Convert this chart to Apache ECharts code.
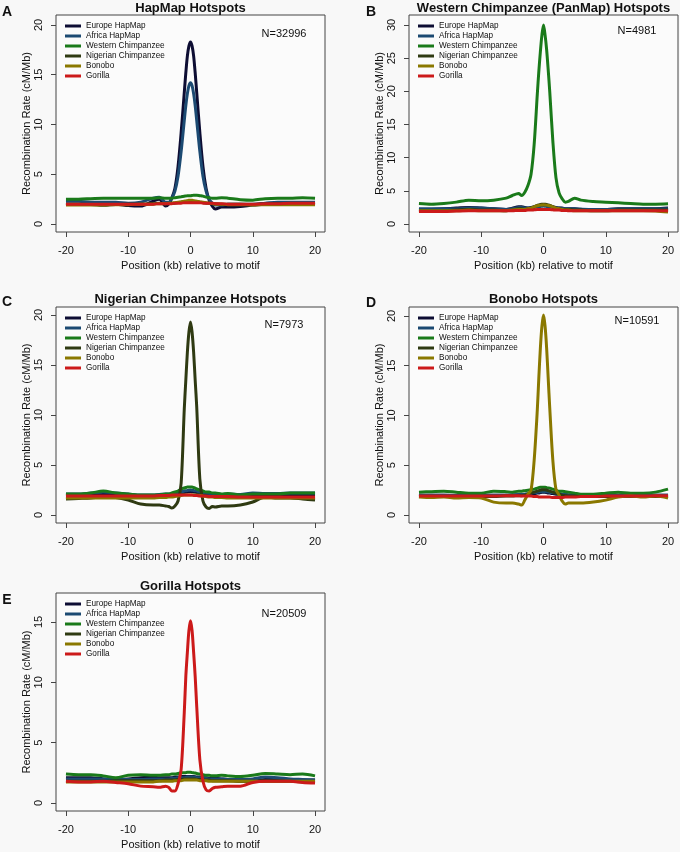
<!DOCTYPE html>
<html><head><meta charset="utf-8">
<script src="https://cdn.jsdelivr.net/npm/echarts@6/dist/echarts.min.js"></script>
<style>html,body{margin:0;padding:0;background:#f8f8f8}#c{width:680px;height:852px}</style>
</head><body><div id="c"></div><script>
// ---- data ----
const X = [-20,-18,-16,-14,-12,-10,-8,-6,-5,-4,-3.5,-3,-2.5,-2,-1.5,-1,-0.75,-0.5,-0.25,0,0.25,0.5,0.75,1,1.5,2,2.5,3,3.5,4,5,6,8,10,12,14,16,18,20];
const NAMES = ['Europe HapMap','Africa HapMap','Western Chimpanzee','Nigerian Chimpanzee','Bonobo','Gorilla'];
const X_TICKS = [-20,-10,0,10,20];

// Panel A: HapMap Hotspots
const a_eur = [2.0,2.0,2.0,1.9,2.0,1.85,1.8,2.3,2.5,1.8,2.0,2.6,3.6,5.8, 9.2,13.2,15.2,16.9,17.9,18.3,17.9,16.9,15.2,13.2,9.2, 5.8,3.6,2.4,1.8,1.5,1.7,1.7,1.75,1.9,2.0,2.0,2.0,2.0,2.0];
const a_afr = [2.3,2.3,2.2,2.2,2.2,2.1,2.2,2.6,2.7,2.2,2.2,2.6,3.3,4.8, 7.3,10.4,11.9,13.1,13.9,14.2,13.9,13.1,11.9,10.4,7.3, 4.8,3.3,2.5,2.1,1.9,1.9,2.0,2.0,2.0,2.1,2.2,2.2,2.2,2.2];
const a_wes = [2.5,2.5,2.55,2.6,2.6,2.6,2.6,2.6,2.65,2.6,2.6,2.6,2.65,2.7, 2.75,2.8,2.82,2.85,2.85,2.85,2.87,2.9,2.9,2.9,2.85, 2.8,2.7,2.65,2.6,2.6,2.65,2.6,2.45,2.4,2.55,2.6,2.6,2.65,2.6];
const a_nig = [2.0,2.0,1.95,1.9,1.95,2.0,2.0,2.05,2.1,2.05,2.05,2.1,2.1,2.15, 2.2,2.2,2.22,2.25,2.25,2.25,2.25,2.25,2.22,2.2,2.2, 2.15,2.1,2.1,2.05,2.05,2.0,2.0,2.0,1.95,2.0,2.05,2.0,2.05,2.0];
const a_bon = [1.9,1.9,1.9,1.9,1.95,1.95,2.0,2.0,2.05,2.05,2.1,2.1,2.15,2.2, 2.25,2.3,2.32,2.35,2.38,2.4,2.38,2.35,2.32,2.3,2.25, 2.2,2.15,2.1,2.05,2.0,2.0,1.95,1.95,1.9,1.95,1.95,1.95,1.95,1.95];
const a_gor = [2.0,2.0,2.0,2.0,2.0,2.0,2.0,2.0,2.05,2.05,2.05,2.05,2.1,2.1, 2.1,2.15,2.15,2.15,2.15,2.15,2.15,2.15,2.15,2.15,2.15, 2.1,2.1,2.1,2.1,2.05,2.05,2.0,2.0,2.0,2.05,2.05,2.1,2.1,2.1];

// Panel B: Western Chimpanzee (PanMap) Hotspots
const b_eur = [2.2,2.2,2.3,2.4,2.5,2.4,2.3,2.2,2.4,2.6,2.6,2.5,2.4,2.5, 2.6,2.7,2.75,2.8,2.8,2.8,2.8,2.8,2.75,2.7,2.6, 2.5,2.4,2.4,2.3,2.3,2.3,2.2,2.1,2.2,2.3,2.3,2.3,2.3,2.4];
const b_afr = [2.3,2.3,2.3,2.3,2.4,2.4,2.3,2.2,2.3,2.5,2.5,2.4,2.4,2.45, 2.5,2.6,2.62,2.65,2.68,2.7,2.68,2.65,2.62,2.6,2.5, 2.45,2.4,2.35,2.3,2.3,2.3,2.25,2.2,2.2,2.25,2.3,2.3,2.3,2.3];
const b_wes = [3.1,3.0,3.1,3.3,3.6,3.5,3.6,3.9,4.3,4.6,4.3,4.8,5.8,7.5, 12.0,19.5,23.0,26.0,28.5,30.0,28.5,26.3,23.3,20.0,12.5, 7.0,4.7,3.8,3.3,3.4,3.9,3.6,3.4,3.3,3.2,3.1,3.0,3.0,3.05];
const b_nig = [2.0,2.0,2.0,2.1,2.2,2.1,2.1,2.0,2.1,2.3,2.3,2.2,2.3,2.4, 2.6,2.8,2.88,2.95,2.98,3.0,2.98,2.95,2.88,2.8,2.6, 2.4,2.3,2.2,2.2,2.2,2.1,2.1,2.0,2.0,2.1,2.1,2.1,2.1,2.1];
const b_bon = [2.0,2.0,2.0,2.0,2.1,2.0,2.0,2.0,2.1,2.2,2.2,2.2,2.3,2.4, 2.6,2.75,2.8,2.85,2.88,2.9,2.88,2.85,2.8,2.75,2.6, 2.4,2.3,2.2,2.1,2.1,2.0,2.0,2.0,2.0,2.0,2.0,2.0,1.95,1.8];
const b_gor = [1.9,1.9,1.9,1.95,2.0,2.0,2.0,2.0,2.0,2.05,2.05,2.05,2.1,2.1, 2.15,2.2,2.2,2.2,2.2,2.2,2.2,2.2,2.2,2.2,2.15, 2.1,2.1,2.05,2.05,2.0,2.0,2.0,2.0,2.0,2.0,2.0,2.0,2.0,2.0];

// Panel C: Nigerian Chimpanzee Hotspots
const c_eur = [2.0,2.0,2.0,2.05,2.05,2.0,1.95,1.95,2.0,2.0,2.05,2.05,2.1,2.15, 2.2,2.25,2.28,2.3,2.33,2.35,2.33,2.3,2.28,2.25,2.2, 2.15,2.1,2.1,2.05,2.05,2.0,2.0,2.0,2.0,2.0,2.0,2.0,2.0,2.0];
const c_afr = [2.1,2.1,2.2,2.3,2.2,2.1,2.0,2.0,2.05,2.1,2.1,2.15,2.2,2.25, 2.3,2.4,2.42,2.45,2.48,2.5,2.48,2.45,2.42,2.4,2.3, 2.25,2.2,2.15,2.1,2.1,2.05,2.1,2.05,2.2,2.15,2.15,2.2,2.2,2.2];
const c_wes = [2.1,2.1,2.2,2.4,2.2,2.1,2.0,2.0,2.0,2.1,2.1,2.2,2.3,2.4, 2.6,2.7,2.75,2.8,2.8,2.8,2.8,2.75,2.7,2.6,2.5, 2.4,2.3,2.3,2.2,2.2,2.1,2.15,2.0,2.1,2.1,2.1,2.2,2.2,2.2];
const c_nig = [1.6,1.65,1.7,1.8,1.75,1.5,1.1,1.0,1.0,0.9,0.85,0.7,0.9,1.4, 3.2,10.6,13.5,16.3,18.3,19.3,18.3,16.3,13.5,10.8,3.6, 1.4,0.8,0.65,0.85,0.8,0.9,0.9,1.0,1.3,1.8,1.7,1.7,1.6,1.5];
const c_bon = [1.7,1.7,1.7,1.7,1.7,1.7,1.7,1.7,1.75,1.75,1.8,1.8,1.85,1.9, 1.95,2.0,2.0,2.0,2.0,2.0,2.0,2.0,2.0,2.0,1.95, 1.9,1.85,1.8,1.8,1.75,1.75,1.7,1.7,1.7,1.7,1.7,1.7,1.7,1.7];
const c_gor = [1.9,1.9,1.9,1.9,1.9,1.9,1.9,1.9,1.95,1.95,1.95,2.0,2.0,2.0, 2.0,2.0,2.0,2.0,2.0,2.0,2.0,1.95,1.95,1.95,1.9, 1.9,1.9,1.85,1.85,1.85,1.85,1.85,1.8,1.8,1.8,1.8,1.8,1.8,1.8];

// Panel D: Bonobo Hotspots
const d_eur = [2.0,2.0,2.0,1.95,1.95,2.0,2.0,2.0,2.0,2.05,2.05,2.05,2.1,2.1, 2.15,2.2,2.22,2.25,2.28,2.3,2.28,2.25,2.22,2.2,2.15, 2.1,2.1,2.05,2.05,2.0,2.0,2.0,2.0,2.0,2.0,2.0,2.0,2.0,2.0];
const d_afr = [2.0,2.0,2.0,2.0,2.0,2.0,2.0,2.0,2.05,2.05,2.1,2.1,2.15,2.2, 2.25,2.3,2.32,2.35,2.35,2.35,2.35,2.35,2.32,2.3,2.25, 2.2,2.15,2.1,2.1,2.05,2.05,2.0,2.0,2.0,2.0,2.0,2.0,2.0,2.0];
const d_wes = [2.3,2.35,2.4,2.3,2.2,2.2,2.4,2.35,2.3,2.4,2.4,2.45,2.5,2.55, 2.6,2.7,2.75,2.8,2.8,2.8,2.8,2.75,2.72,2.7,2.6, 2.5,2.4,2.4,2.35,2.3,2.2,2.1,2.1,2.2,2.3,2.2,2.2,2.3,2.6];
const d_nig = [1.85,1.85,1.85,1.85,1.85,1.85,1.85,1.9,1.9,1.95,1.95,2.0,2.1,2.2, 2.3,2.4,2.45,2.5,2.53,2.55,2.53,2.5,2.45,2.4,2.3, 2.2,2.1,2.0,1.95,1.9,1.9,1.85,1.85,1.85,1.85,1.85,1.85,1.85,1.85];
const d_bon = [1.8,1.75,1.8,1.7,1.75,1.7,1.3,1.2,1.2,1.1,1.0,1.5,2.1,2.5, 5.5,10.5,13.8,16.8,19.0,20.1,19.0,16.8,13.8,10.8,5.5, 2.6,2.0,1.4,1.1,1.2,1.2,1.2,1.3,1.5,1.8,1.9,1.8,1.9,1.7];
const d_gor = [1.9,1.9,1.9,1.9,1.9,1.9,1.9,1.95,1.95,1.95,1.9,1.9,1.9,1.9, 1.85,1.85,1.82,1.8,1.8,1.8,1.8,1.8,1.8,1.8,1.75, 1.75,1.75,1.75,1.8,1.8,1.8,1.85,1.85,1.9,1.9,1.9,1.9,1.95,1.95];

// Panel E: Gorilla Hotspots
const e_eur = [2.1,2.1,2.1,2.0,1.95,2.0,2.1,2.15,2.1,2.1,2.1,2.1,2.15,2.15, 2.2,2.2,2.2,2.2,2.2,2.2,2.2,2.2,2.18,2.15,2.15, 2.1,2.1,2.05,2.05,2.05,2.0,1.95,1.8,1.8,1.95,2.0,1.95,1.9,1.9];
const e_afr = [2.0,2.0,2.0,2.0,2.0,1.95,1.95,2.0,2.0,2.0,2.0,2.05,2.05,2.1, 2.1,2.1,2.12,2.15,2.15,2.15,2.15,2.15,2.12,2.1,2.1, 2.05,2.05,2.0,2.0,2.0,2.0,1.95,1.95,2.0,2.15,2.1,2.0,1.95,1.9];
const e_wes = [2.4,2.35,2.35,2.25,2.1,2.3,2.35,2.3,2.3,2.35,2.35,2.4,2.4,2.45, 2.5,2.5,2.52,2.55,2.55,2.55,2.52,2.5,2.48,2.45,2.4, 2.35,2.3,2.3,2.25,2.25,2.3,2.25,2.2,2.3,2.45,2.4,2.35,2.4,2.25];
const e_nig = [1.8,1.8,1.8,1.8,1.85,1.85,1.85,1.85,1.85,1.9,1.9,1.9,1.9,1.95, 1.95,2.0,2.0,2.0,2.0,2.0,2.0,2.0,2.0,1.95,1.95, 1.9,1.9,1.9,1.85,1.85,1.85,1.85,1.8,1.8,1.8,1.8,1.8,1.75,1.75];
const e_bon = [1.75,1.75,1.75,1.75,1.75,1.75,1.75,1.75,1.8,1.8,1.8,1.8,1.85,1.85, 1.85,1.9,1.9,1.9,1.9,1.9,1.9,1.9,1.9,1.9,1.85, 1.85,1.85,1.8,1.8,1.8,1.8,1.8,1.8,1.8,1.8,1.8,1.8,1.8,1.8];
const e_gor = [1.8,1.75,1.75,1.8,1.7,1.6,1.4,1.35,1.3,1.4,1.3,1.0,1.0,1.6, 2.8,7.5,10.5,12.5,14.3,15.1,14.3,12.5,10.5,8.0,3.6, 1.8,1.1,1.0,1.2,1.3,1.35,1.4,1.4,1.7,1.8,1.8,1.8,1.7,1.65];

// ---- styling / layout ----
const COLORS = ['#0d0d33','#1c4a72','#1a7a1a','#2f3a12','#8a7800','#cc1a1a'];
const FONT = '"Liberation Sans", Arial, Helvetica, sans-serif';
const panels = [
  {letter:'A', title:'HapMap Hotspots', n:'N=32996', data:[a_eur,a_afr,a_wes,a_nig,a_bon,a_gor],
   yMin:-0.8, yMax:21.0, yTicks:[0,5,10,15,20], box:[56,15,269,217], nY:35, titleY:8, letterXY:[7,11]},
  {letter:'B', title:'Western Chimpanzee (PanMap) Hotspots', n:'N=4981', data:[b_eur,b_afr,b_wes,b_nig,b_bon,b_gor],
   yMin:-1.2, yMax:31.5, yTicks:[0,5,10,15,20,25,30], box:[409,15,269,217], nY:32, titleY:8, letterXY:[371,11]},
  {letter:'C', title:'Nigerian Chimpanzee Hotspots', n:'N=7973', data:[c_eur,c_afr,c_wes,c_nig,c_bon,c_gor],
   yMin:-0.8, yMax:20.8, yTicks:[0,5,10,15,20], box:[56,307,269,216], nY:326, titleY:299, letterXY:[7,301]},
  {letter:'D', title:'Bonobo Hotspots', n:'N=10591', data:[d_eur,d_afr,d_wes,d_nig,d_bon,d_gor],
   yMin:-0.8, yMax:20.9, yTicks:[0,5,10,15,20], box:[409,307,269,216], nY:322, titleY:299, letterXY:[371,302]},
  {letter:'E', title:'Gorilla Hotspots', n:'N=20509', data:[e_eur,e_afr,e_wes,e_nig,e_bon,e_gor],
   yMin:-0.66, yMax:17.4, yTicks:[0,5,10,15], box:[56,593,269,218], nY:615, titleY:586, letterXY:[7,599]}
];

const grid=[], xAxis=[], yAxis=[], series=[], legend=[], title=[];
panels.forEach((p,i)=>{
  const [L,T,W,H] = p.box;
  grid.push({left:L, top:T, width:W, height:H, show:true, borderColor:'#444', borderWidth:1, backgroundColor:'#fbfbfb', containLabel:false});
  xAxis.push({type:'value', gridIndex:i, min:-21.6, max:21.6,
    axisLine:{show:false, onZero:false}, splitLine:{show:false},
    axisTick:{show:true, length:5, customValues:X_TICKS, lineStyle:{color:'#444'}},
    axisLabel:{customValues:X_TICKS, margin:13, fontSize:11, color:'#111', fontFamily:FONT},
    name:'Position (kb) relative to motif', nameLocation:'middle', nameGap:28,
    nameTextStyle:{fontSize:11, color:'#111', fontFamily:FONT}});
  yAxis.push({type:'value', gridIndex:i, min:p.yMin, max:p.yMax,
    axisLine:{show:false, onZero:false}, splitLine:{show:false},
    axisTick:{show:true, length:5, customValues:p.yTicks, lineStyle:{color:'#444'}},
    axisLabel:{customValues:p.yTicks, rotate:90, margin:12, fontSize:11, color:'#111', fontFamily:FONT},
    name:'Recombination Rate (cM/Mb)', nameLocation:'middle', nameGap:24,
    nameTextStyle:{fontSize:11, color:'#111', fontFamily:FONT}});
  p.data.forEach((vals,k)=>{
    series.push({type:'line', name:NAMES[k], xAxisIndex:i, yAxisIndex:i,
      data:X.map((x,j)=>[x, vals[j]]), showSymbol:false, smooth:0.3, silent:true,
      color:COLORS[k], itemStyle:{color:COLORS[k]}, lineStyle:{width:3, color:COLORS[k]}, animation:false});
  });
  legend.push({orient:'vertical', left:L+9, top:T+6, padding:0, itemGap:0, itemWidth:16, itemHeight:3,
    icon:'rect', selectedMode:false, data:NAMES,
    textStyle:{fontSize:8.2, lineHeight:10, color:'#111', fontFamily:FONT}});
  title.push({text:p.title, left:L+W/2, top:p.titleY-6, padding:0, textAlign:'center',
    textStyle:{fontSize:13, fontWeight:'bold', color:'#111', fontFamily:FONT}});
  title.push({text:p.letter, left:p.letterXY[0], top:p.letterXY[1]-6, padding:0, textAlign:'center',
    textStyle:{fontSize:14, fontWeight:'bold', color:'#111', fontFamily:FONT}});
  title.push({text:p.n, left:L+228, top:p.nY-7, padding:0, textAlign:'center',
    textStyle:{fontSize:11, fontWeight:'normal', color:'#111', fontFamily:FONT}});
});

const chart = echarts.init(document.getElementById('c'), null, {renderer:'canvas'});
chart.setOption({backgroundColor:'#f8f8f8', animation:false, grid, xAxis, yAxis, series, legend, title});
</script></body></html>
